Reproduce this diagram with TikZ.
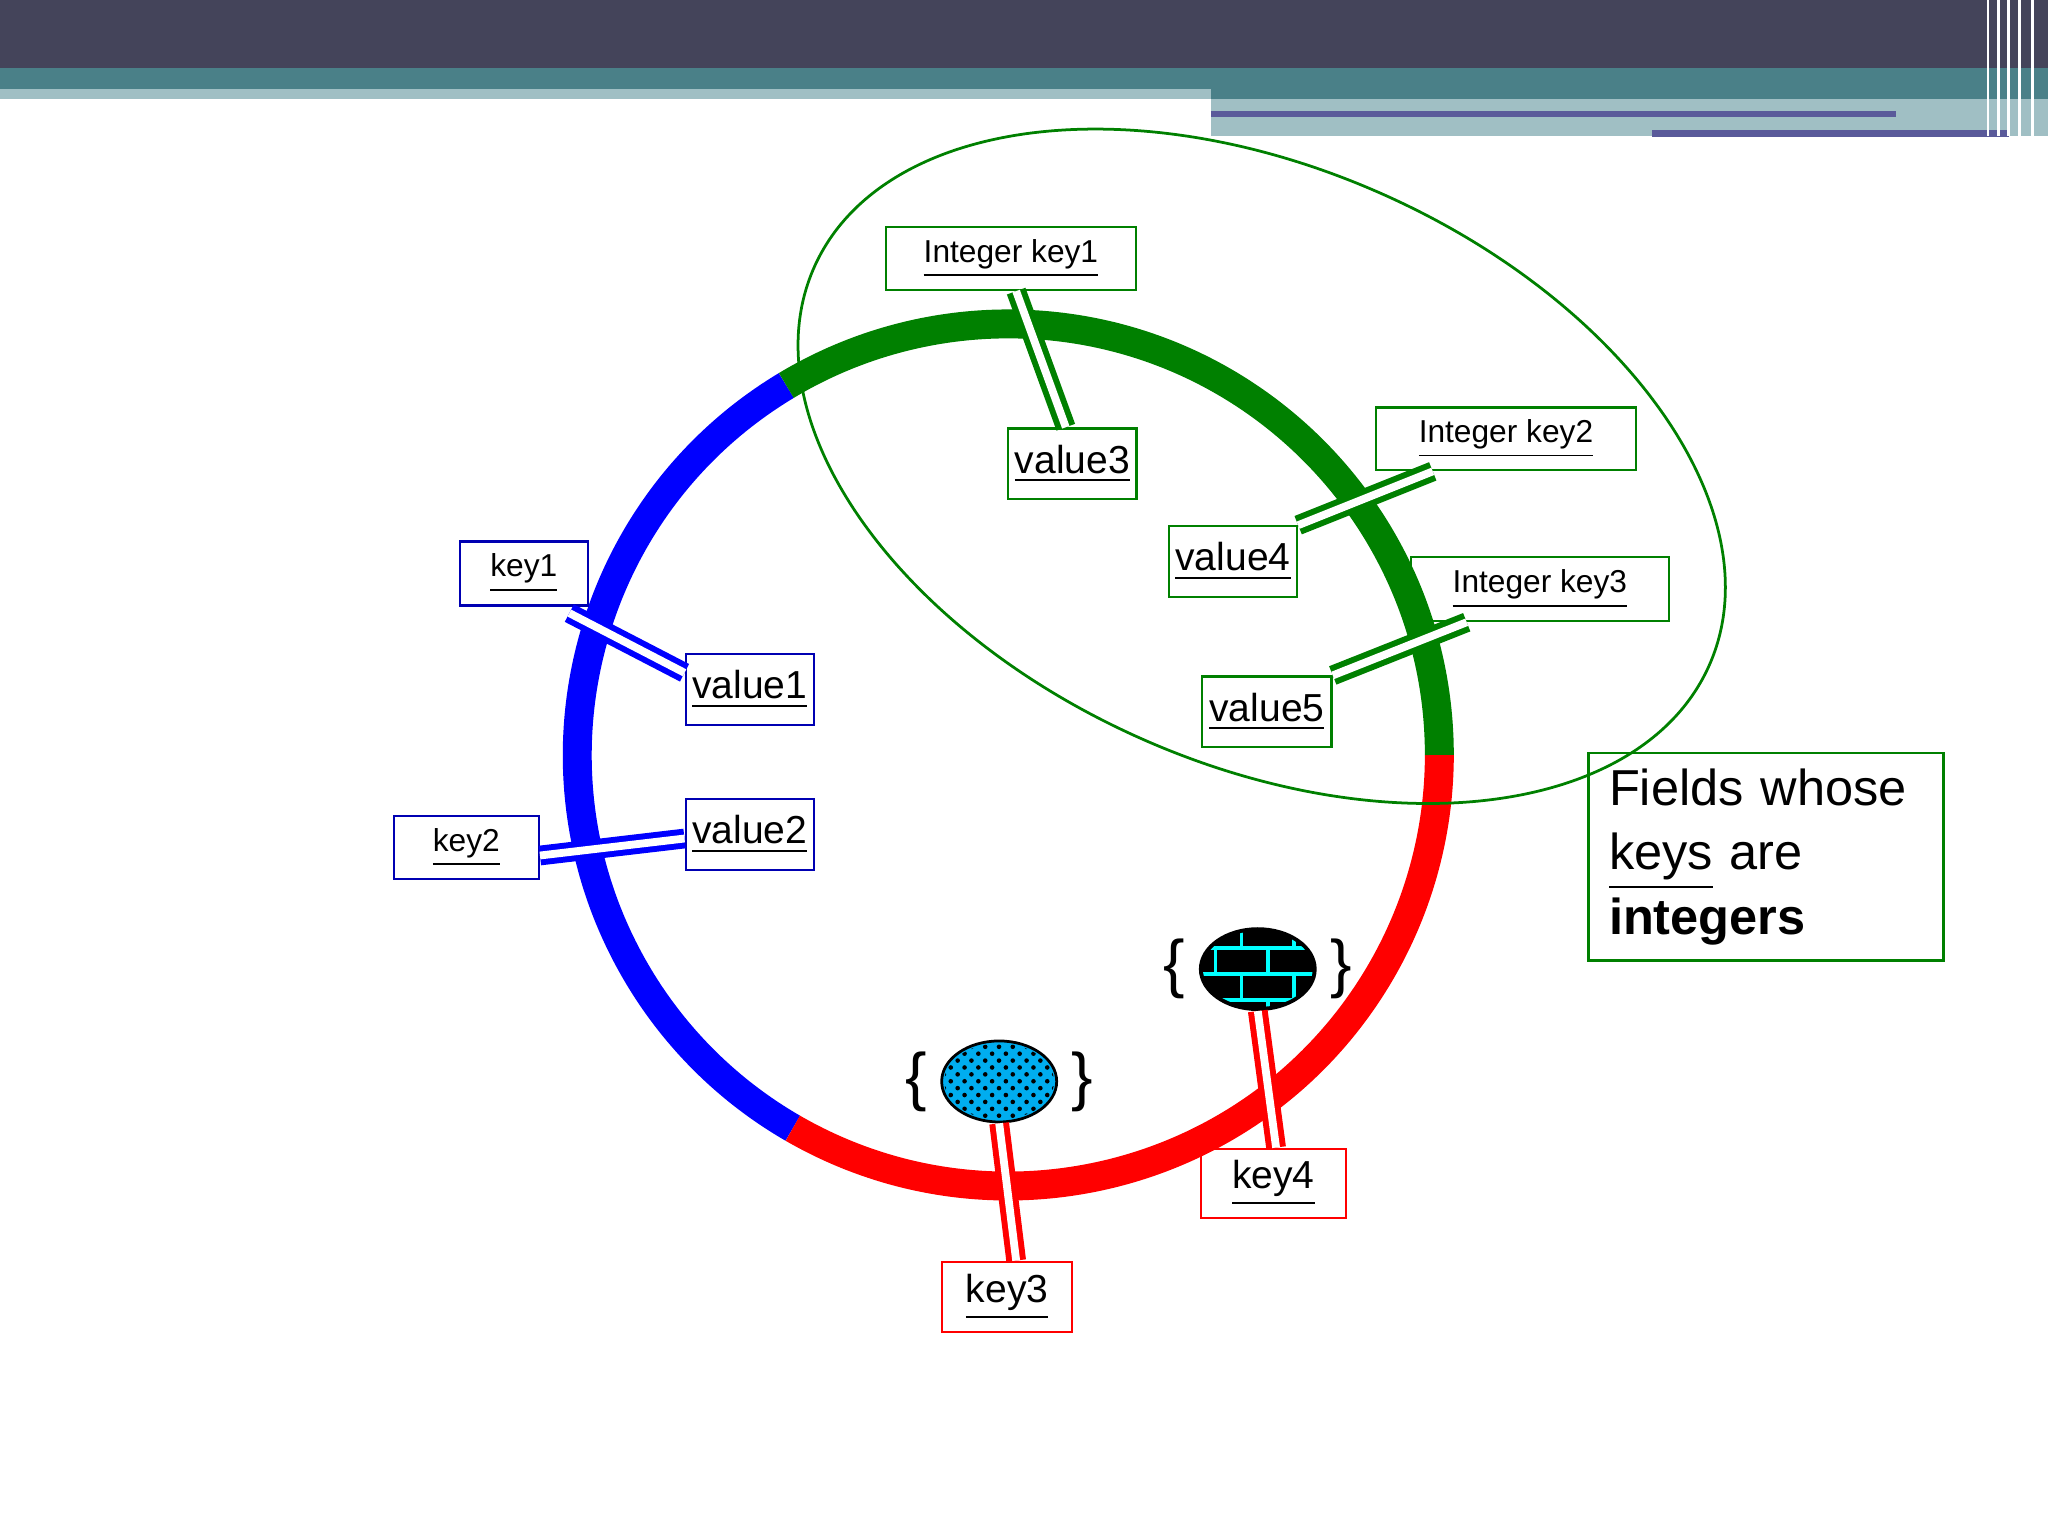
\documentclass[tikz,border=0pt]{standalone}
\usepackage{fontspec}
\setmainfont{Liberation Sans}
\usetikzlibrary{patterns,positioning,shapes.geometric}
\definecolor{ringgreen}{RGB}{0,128,0}
\definecolor{hdrdark}{RGB}{68,68,90}
\definecolor{hdrteal}{RGB}{74,128,136}
\definecolor{hdrlight}{RGB}{160,191,196}
\definecolor{hdrline}{RGB}{90,90,154}
\begin{document}
\begin{tikzpicture}[x=0.01cm,y=-0.01cm,
  keybox/.style={draw,line width=0.5pt,inner sep=0pt,font=\fontsize{8.5}{10}\selectfont},
  ikeybox/.style={keybox,font=\fontsize{6.9}{8}\selectfont},
  tick/.style={line width=1.3pt,double=white,double distance=1.7pt},
  ring/.style={line width=6.3pt}]
\useasboundingbox (0,0) rectangle (1568,1176);
% header
\fill[hdrdark] (0,0) rectangle (1568,52);
\fill[hdrteal] (0,52) rectangle (1568,68);
\fill[hdrlight] (0,68) rectangle (927,76);
\fill[hdrteal] (927,68) rectangle (1568,76);
\fill[hdrlight] (927,76) rectangle (1568,104);
\draw[hdrline,line width=1.3pt] (927,87) -- (1452,87);
\draw[hdrline,line width=1.6pt] (1265,102) -- (1538,102);
\foreach \x in {1522,1530,1538,1546,1556}
  \draw[white,line width=0.6pt] (\x,0) -- (\x,104);
% ring
\draw[ring,blue] (772,578) ++(-121:330) arc[start angle=-121,end angle=-240,radius=330];
\draw[ring,red] (772,578) ++(-240:330) arc[start angle=-240,end angle=-360,radius=330];
\draw[ring,ringgreen] (772,578) ++(0:330) arc[start angle=0,end angle=-121,radius=330];
\draw[ringgreen,line width=0.6pt] (966,357) ellipse[x radius=375,y radius=228,rotate=-24];
% boxes
\node[ikeybox,draw=ringgreen,minimum width=1.91cm,minimum height=0.48cm] (ik1) at (774,198) {\underline{Integer key1}};
\node[ikeybox,draw=ringgreen,minimum width=1.99cm,minimum height=0.48cm] (ik2) at (1153,336) {\underline{Integer key2}};
\node[ikeybox,draw=ringgreen,minimum width=1.97cm,minimum height=0.49cm] (ik3) at (1179,451) {\underline{Integer key3}};
\node[keybox,draw=ringgreen,minimum width=0.98cm,minimum height=0.54cm] (v3) at (821,355) {\underline{value3}};
\node[keybox,draw=ringgreen,minimum width=0.98cm,minimum height=0.54cm] (v4) at (944,430) {\underline{value4}};
\node[keybox,draw=ringgreen,minimum width=0.99cm,minimum height=0.54cm] (v5) at (970,545) {\underline{value5}};
\node[ikeybox,draw=blue!70!black,minimum width=0.98cm,minimum height=0.49cm] (k1) at (401,439) {\underline{key1}};
\node[ikeybox,draw=blue!70!black,minimum width=1.11cm,minimum height=0.48cm] (k2) at (357,649) {\underline{key2}};
\node[keybox,draw=blue!70!black,minimum width=0.98cm,minimum height=0.54cm] (v1) at (574,528) {\underline{value1}};
\node[keybox,draw=blue!70!black,minimum width=0.98cm,minimum height=0.54cm] (v2) at (574,639) {\underline{value2}};
\node[keybox,draw=red,minimum width=0.99cm,minimum height=0.54cm] (k3) at (771,993) {\underline{key3}};
\node[keybox,draw=red,minimum width=1.11cm,minimum height=0.53cm] (k4) at (975,906) {\underline{key4}};
% blobs
\node[draw,ellipse,line width=0.6pt,fill=cyan,minimum width=0.88cm,minimum height=0.62cm,inner sep=0pt] (b1) at (765,828) {};
\node[draw,ellipse,line width=0.6pt,fill=black,minimum width=0.88cm,minimum height=0.62cm,inner sep=0pt] (b2) at (963,742) {};
\fill[pattern=bricks,pattern color=cyan] (963,742) ellipse[x radius=42,y radius=29];
\fill[pattern=crosshatch dots,pattern color=black] (765,828) ellipse[x radius=42,y radius=29];
\node[font=\fontsize{14}{14}\selectfont,left=-0.02cm of b1] {\{};
\node[font=\fontsize{14}{14}\selectfont,right=-0.02cm of b1] {\}};
\node[font=\fontsize{14}{14}\selectfont,left=-0.02cm of b2] {\{};
\node[font=\fontsize{14}{14}\selectfont,right=-0.02cm of b2] {\}};
% ticks
\draw[tick,ringgreen] ([xshift=0.04cm]ik1.south) -- ([xshift=-0.05cm]v3.north);
\draw[tick,ringgreen] ([xshift=-0.56cm]ik2.south) -- (v4.north east);
\draw[tick,ringgreen] ([xshift=-0.56cm]ik3.south) -- (v5.north east);
\draw[tick,blue] ([xshift=-0.15cm,yshift=-0.05cm]k1.south east) -- ([yshift=-0.15cm]v1.north west);
\draw[tick,blue] ([yshift=-0.06cm]k2.east) -- ([yshift=-0.03cm]v2.west);
\draw[tick,red] (b1.south) -- ([xshift=0.07cm]k3.north);
\draw[tick,red] (b2.south) -- ([xshift=0.02cm]k4.north);
% note
\node[draw=ringgreen,line width=0.6pt,minimum width=2.72cm,minimum height=1.59cm,align=left,text width=2.4cm,
  font=\fontsize{11}{14}\selectfont] (note) at (1352,656) {Fields whose\\\underline{keys} are\\\textbf{integers}};
\end{tikzpicture}
\end{document}
